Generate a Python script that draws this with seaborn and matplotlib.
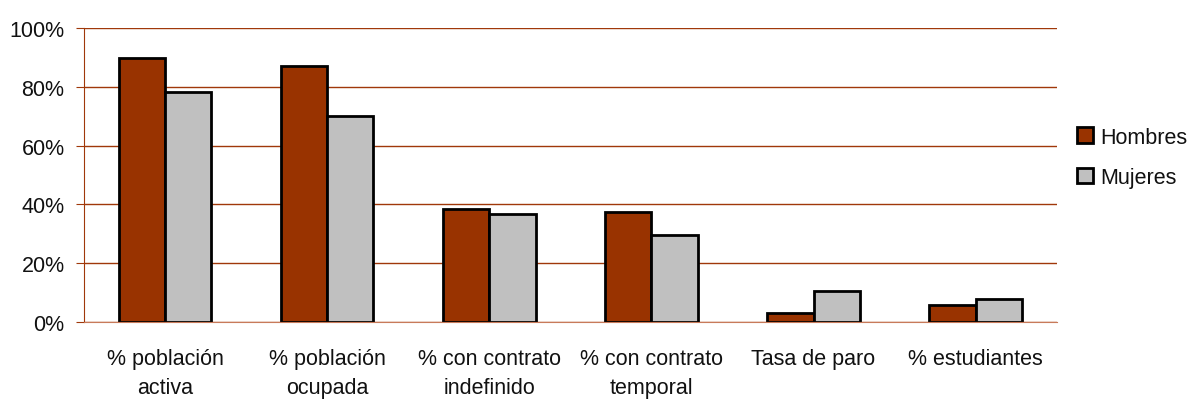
import matplotlib
matplotlib.use("Agg")
import matplotlib.pyplot as plt
import seaborn as sns
import pandas as pd
from matplotlib.ticker import PercentFormatter
from matplotlib.patches import Patch

categorias = ["% población\nactiva", "% población\nocupada", "% con contrato\nindefinido",
              "% con contrato\ntemporal", "Tasa de paro", "% estudiantes"]
hombres = [89.7, 87.0, 38.4, 37.5, 3.0, 5.9]
mujeres = [78.4, 70.0, 36.7, 29.6, 10.6, 7.8]
series = ["Hombres", "Mujeres"]
colores = ["#993300", "#c0c0c0"]
grid_color = "#a0380a"

df = pd.DataFrame({
    "categoria": categorias * 2,
    "valor": hombres + mujeres,
    "serie": [series[0]] * len(categorias) + [series[1]] * len(categorias),
})

sns.set_style("white")
plt.rcParams["font.family"] = ["Liberation Sans", "DejaVu Sans"]
plt.rcParams["text.color"] = "#111111"
plt.rcParams["xtick.color"] = "#111111"
plt.rcParams["ytick.color"] = "#111111"

fig, ax = plt.subplots(figsize=(11.9, 4.1), dpi=100)
fig.subplots_adjust(left=0.0706, right=0.888, top=0.929, bottom=0.212)

sns.barplot(data=df, x="categoria", y="valor", hue="serie", palette=colores,
            width=0.57, edgecolor="black", linewidth=2, saturation=1, ax=ax, legend=False)

ax.set_ylim(0, 100)
ax.set_yticks([0, 20, 40, 60, 80, 100])
ax.yaxis.set_major_formatter(PercentFormatter(decimals=0))
ax.set_xlim(-0.5, len(categorias) - 0.5)
ax.set_xlabel("")
ax.set_ylabel("")
ax.yaxis.grid(True, color=grid_color, linewidth=1)
ax.set_axisbelow(True)
for side in ["top", "right"]:
    ax.spines[side].set_visible(False)
ax.spines["left"].set_color(grid_color)
ax.spines["bottom"].set_color("#c87a5a")
ax.tick_params(axis="y", labelsize=15.5, length=6, color=grid_color, labelcolor="#111111",
               left=True, pad=8)
ax.tick_params(axis="x", labelsize=15.5, length=0, labelcolor="#111111", pad=19)
for lbl in ax.get_xticklabels():
    lbl.set_linespacing(1.5)

handles = [Patch(facecolor=c, edgecolor="black", linewidth=2) for c in colores]
fig.legend(handles, series, loc="center left", bbox_to_anchor=(0.898, 0.614), frameon=False,
           fontsize=15.5, handlelength=0.75, handleheight=0.75, handletextpad=0.33,
           labelspacing=0.9, borderaxespad=0)

fig.savefig("out.png", dpi=100)
